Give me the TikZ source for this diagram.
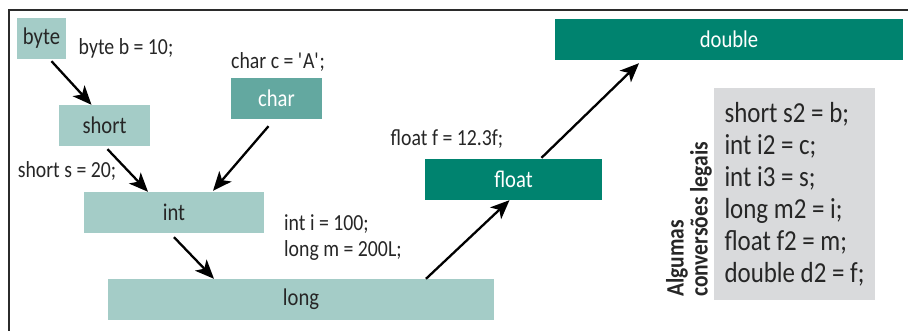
\documentclass[tikz,border=0pt]{standalone}
\usepackage{fontspec}
\setmainfont{Carlito}[FakeStretch=0.86]
\usetikzlibrary{arrows.meta}
\definecolor{tealpale}{HTML}{A4CCC7}
\definecolor{tealmid}{HTML}{63A8A0}
\definecolor{tealdark}{HTML}{00836F}
\definecolor{codegray}{HTML}{D9DADC}
\definecolor{framegray}{HTML}{2B2B2B}
\begin{document}
\begin{tikzpicture}[x=1pt,y=-1pt,
  typebox/.style={minimum height=41pt, inner sep=0pt, font=\fontsize{24}{26}\selectfont},
  pale/.style={typebox, fill=tealpale, text=black!85},
  mid/.style={typebox, fill=tealmid, text=white},
  dark/.style={typebox, fill=tealdark, text=white},
  decl/.style={inner sep=0pt, text=black!85, font=\fontsize{23}{26}\selectfont},
  conv/.style={line width=2.3pt, -{Stealth[length=19pt,width=16pt,inset=5pt]}}]
\useasboundingbox (0,0) rectangle (908,331);
\draw[framegray, line width=2.5pt] (9,331) -- (9,10) -- (908,10);
% type boxes
\node[pale, minimum width=49pt] (byte) at (41.5,38.5) {byte};
\node[pale, minimum width=91pt] (short) at (104.5,125.5) {short};
\node[mid, minimum width=91pt] (char) at (276.5,98.5) {char};
\node[pale, minimum width=180pt] (int) at (174,212.5) {int};
\node[pale, minimum width=386pt] (long) at (301,299.5) {long};
\node[dark, minimum width=177pt] (float) at (513.5,179.5) {float};
\node[dark, minimum width=348pt] (double) at (729,39.5) {double};
% declarations
\node[decl] (declbyte) at (126,48) {byte b = 10;};
\node[decl] (declchar) at (278,62) {char c = \textquotesingle A\textquotesingle;};
\node[decl] (declshort) at (67,171) {short s = 20;};
\node[decl, anchor=west, align=left] (declint) at (284,238) {int i = 100;\\long m = 200L;};
\node[decl] (declfloat) at (447,139) {float f = 12.3f;};
% widening arrows
\draw[conv] ([xshift=10pt,yshift=-2pt]byte.south) -- ([xshift=-13pt]short.north);
\draw[conv] ([xshift=3pt,yshift=-3pt]short.south) -- ([xshift=-26pt]int.north);
\draw[conv] ([xshift=-8pt,yshift=-7pt]char.south) -- ([xshift=39pt,yshift=1pt]int.north);
\draw[conv] ([yshift=-4pt]int.south) -- ([xshift=-87pt]long.north);
\draw[conv] ([xshift=125pt]long.north) -- ([xshift=-4pt]float.south);
\draw[conv] ([xshift=28pt,yshift=1pt]float.north) -- ([xshift=-90pt,yshift=-3pt]double.south);
% legal conversions
\node[fill=codegray, minimum width=161pt, minimum height=212pt, inner sep=0pt,
  align=left, text=black!85, font=\fontsize{29}{32}\selectfont]
  (code) at (794.5,194) {short s2 = b;\\int i2 = c;\\int i3 = s;\\long m2 = i;\\float f2 = m;\\double d2 = f;};
\node[rotate=90, anchor=south west, inner sep=0pt, align=left, text=black!85,
  font=\bfseries\fontsize{25}{24}\selectfont]
  (codetitle) at (712,297) {Algumas\\conversões legais};
\end{tikzpicture}
\end{document}
